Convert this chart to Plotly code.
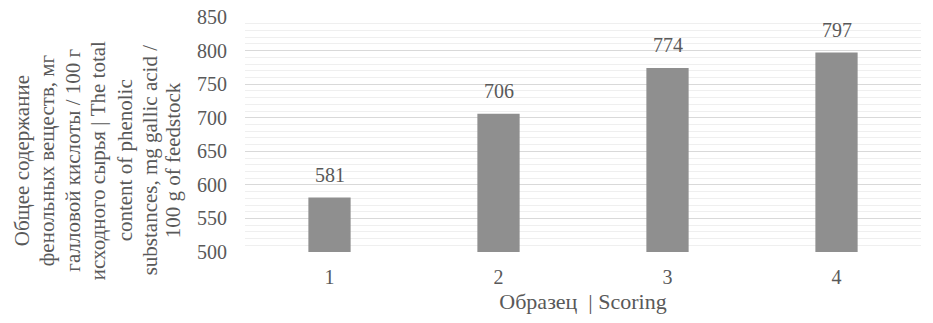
import plotly.graph_objects as go

categories = ["1", "2", "3", "4"]
values = [581, 706, 774, 797]
y_ticks = [500, 550, 600, 650, 700, 750, 800, 850]

y_title_lines = [
    "Общее содержание",
    "фенольных веществ, мг",
    "галловой кислоты / 100 г",
    "исходного сырья | The total",
    "content of phenolic",
    "substances, mg gallic acid /",
    "100 g of feedstock",
]
x_title = "Образец  | Scoring"

FONT = "Liberation Serif"
TXT = "#595959"

fig = go.Figure()
fig.add_trace(go.Bar(
    x=categories, y=values,
    marker=dict(color="#8f8f8f", line=dict(width=0)),
    width=0.25,
    hoverinfo="skip",
))

for i, v in enumerate(values):
    fig.add_annotation(x=i, y=v, text=str(v), showarrow=False,
                       yanchor="bottom", yshift=10,
                       font=dict(family=FONT, size=20, color=TXT))

line_x = [-0.330, -0.293, -0.254, -0.2175, -0.1775, -0.1405, -0.1065]
for lx, line in zip(line_x, y_title_lines):
    fig.add_annotation(xref="paper", yref="paper", x=lx, y=0.39,
                       text=line, showarrow=False, textangle=-90,
                       xanchor="center", yanchor="middle",
                       font=dict(family=FONT, size=21, color=TXT))

fig.update_layout(
    width=933, height=323,
    margin=dict(l=237, r=20, t=9, b=79),
    paper_bgcolor="white", plot_bgcolor="white",
    showlegend=False,
    bargap=0.75,
    font=dict(family=FONT, color=TXT),
)
fig.update_xaxes(
    type="category",
    range=[-0.5, 3.5],
    tickfont=dict(family=FONT, size=20, color=TXT),
    ticklabelstandoff=11,
    showline=False, showgrid=False, zeroline=False,
    title=dict(text=x_title, font=dict(family=FONT, size=22, color=TXT), standoff=6),
)
fig.update_yaxes(
    range=[500, 850],
    tickvals=y_ticks,
    tickfont=dict(family=FONT, size=20, color=TXT),
    ticklabelstandoff=17,
    automargin=False,
    ticklabeloverflow="allow",
    showgrid=True, gridcolor="#d9d9d9", gridwidth=1,
    zeroline=False, showline=False,
    minor=dict(dtick=10, tick0=500, showgrid=True, gridcolor="#efefef", gridwidth=1),
)

fig.write_html("out.html")
